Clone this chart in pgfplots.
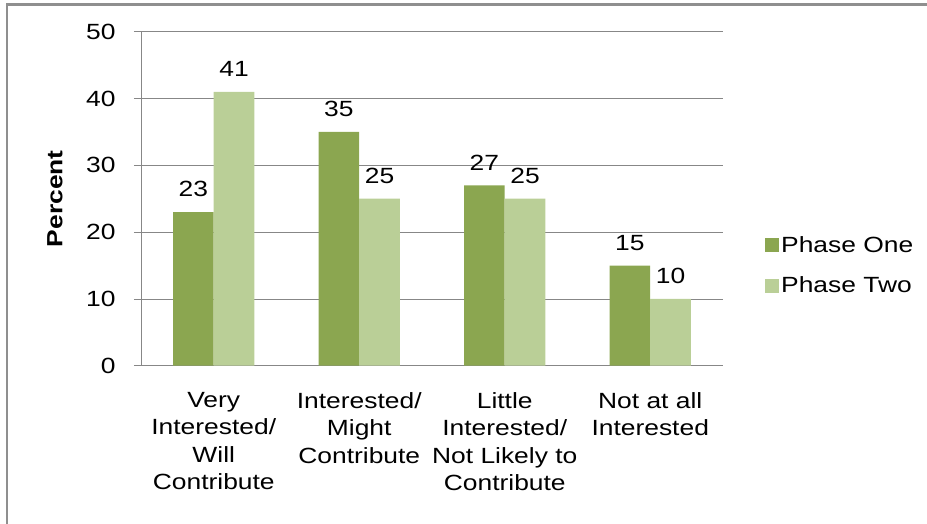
\documentclass[border=0pt]{standalone}
\usepackage{pgfplots}
\pgfplotsset{compat=1.18}
\usepackage{fontspec}
\setmainfont{Liberation Sans}[FakeStretch=1.2]
\definecolor{phaseone}{HTML}{8BA650}
\definecolor{phasetwo}{HTML}{BACF97}
\definecolor{gridgray}{HTML}{878787}
\definecolor{framegray}{HTML}{8F8F8F}
\begin{document}
\begin{tikzpicture}[x=1pt,y=1pt]
\path[use as bounding box] (-141,-157.3) rectangle (786,365.7);
\draw[framegray, line width=2.5pt] (-134,-160) -- (-134,361) -- (790,361);
\begin{axis}[
  at={(0,0)}, anchor=south west,
  scale only axis,
  width=582pt, height=334pt,
  ybar=0pt,
  bar width=0.28,
  xmin=-0.5, xmax=3.5,
  ymin=0, ymax=50,
  ytick={0,10,20,30,40,50},
  xtick={0,1,2,3},
  xticklabels={{Very\\Interested/\\Will\\Contribute},{Interested/\\Might\\Contribute},{Little\\Interested/\\Not Likely to\\Contribute},{Not at all\\Interested}},
  major x tick style={draw=none},
  extra x ticks={-0.5,0.5,1.5,2.5,3.5},
  extra x tick labels={},
  extra x tick style={major tick length=7pt, tick align=outside, grid=none, tick style={draw=gridgray, line width=0.8pt}},
  ytick style={draw=gridgray, line width=0.8pt},
  tick align=outside,
  major tick length=7pt,
  axis x line*=bottom,
  axis y line*=left,
  axis line style={draw=gridgray, line width=0.8pt, -},
  ymajorgrids,
  major grid style={draw=gridgray, line width=0.8pt},
  /pgf/number format/assume math mode=true,
  tick label style={font=\fontsize{22}{27.5}\selectfont, text=black},
  xticklabel style={align=center, anchor=north, yshift=-16pt},
  yticklabel style={xshift=-15pt},
  ylabel={\bfseries Percent},
  ylabel style={font=\fontsize{22}{26}\selectfont, at={(axis description cs:-0.148,0.5)}, anchor=center},
  nodes near coords,
  nodes near coords style={font=\fontsize{22}{26}\selectfont, anchor=south, inner sep=0pt, yshift=15pt, text=black},
  legend style={draw=none, fill=none, at={(1,0.30)}, anchor=west, xshift=39pt,
    font=\fontsize{22}{26}\selectfont, row sep=19pt,
    legend cell align=left},
  legend image code/.code={\path[#1] (0pt,-7pt) rectangle (14pt,7pt);},
]
\addplot[fill=phaseone, draw=none] coordinates {(0,23) (1,35) (2,27) (3,15)};
\addplot[fill=phasetwo, draw=none] coordinates {(0,41) (1,25) (2,25) (3,10)};
\legend{Phase One, Phase Two}
\end{axis}
\end{tikzpicture}
\end{document}
